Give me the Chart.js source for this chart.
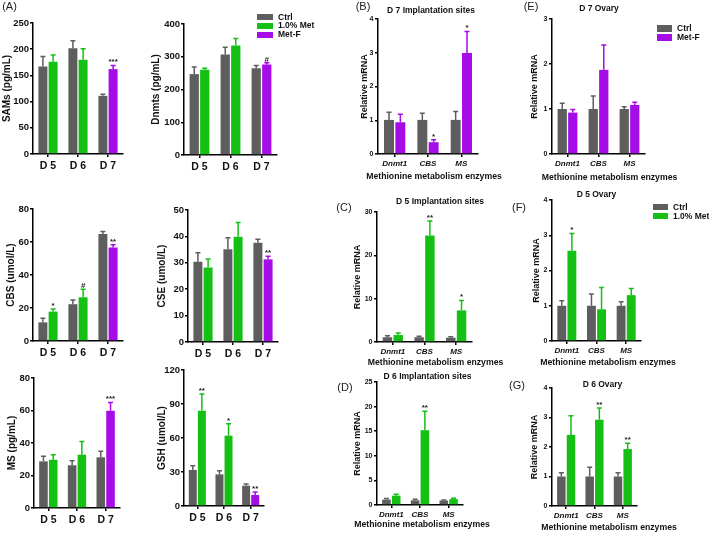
<!DOCTYPE html>
<html><head><meta charset="utf-8">
<script src="https://cdn.jsdelivr.net/npm/chart.js@4.4.1/dist/chart.umd.min.js"></script>
<style>
html,body{margin:0;padding:0;background:#fff;}
body{width:709px;height:534px;position:relative;overflow:hidden;font-family:"Liberation Sans",Arial,sans-serif;}
canvas{position:absolute;}
.plbl{position:absolute;font-size:11px;color:#222;line-height:1;transform:translate(-50%,-50%);white-space:nowrap;}
.leg{position:absolute;font-weight:bold;font-size:8.5px;color:#111;line-height:1;white-space:nowrap;}
.sw{position:absolute;}
</style></head><body>
<script>
const GRAY = '#5e5e5e', GREEN = '#14c014', PURPLE = '#a60ce8';
const dayCats = ['D 5', 'D 6', 'D 7'];
const enzCats = ['Dnmt1', 'CBS', 'MS'];
const dayColors = [GREEN, GREEN, PURPLE];
const greenColors = [GREEN, GREEN, GREEN];
const purpleColors = [PURPLE, PURPLE, PURPLE];

// (A) levels — Ctrl vs treatment (1.0% Met on D5/D6, Met-F on D7)
const samsCtrl = [167, 202, 111], samsCtrlSd = [19, 14, 3];
const samsTrt = [176, 180, 162], samsTrtSd = [13, 21, 7], samsNotes = ['', '', '***'];
const dnmtsCtrl = [247, 307, 265], dnmtsCtrlSd = [22, 22, 8];
const dnmtsTrt = [260, 334, 276], dnmtsTrtSd = [5, 22, 6], dnmtsNotes = ['', '', '#'];
const cbsCtrl = [11.3, 22.3, 64.8], cbsCtrlSd = [2.5, 2.6, 1.6];
const cbsTrt = [17.8, 26.5, 56.7], cbsTrtSd = [1.6, 4.9, 1.6], cbsNotes = ['*', '#', '**'];
const cseCtrl = [30.4, 35.1, 37.6], cseCtrlSd = [3.4, 4.4, 1.3];
const cseTrt = [28.2, 39.9, 31.3], cseTrtSd = [3.2, 5.4, 1.2], cseNotes = ['', '', '**'];
const msCtrl = [28.7, 26.3, 31.2], msCtrlSd = [3.1, 2.8, 3.7];
const msTrt = [29.7, 32.8, 59.9], msTrtSd = [3.1, 8.2, 5.1], msNotes = ['', '', '***'];
const gshCtrl = [31.8, 27.9, 17.9], gshCtrlSd = [3.8, 3.3, 1.5];
const gshTrt = [84.1, 62.1, 9.7], gshTrtSd = [14.7, 10.5, 2.7], gshNotes = ['**', '*', '**'];

// (B)-(G) relative mRNA
const bCtrl = [1.01, 1.01, 1.01], bCtrlSd = [0.23, 0.2, 0.25];
const bTrt = [0.94, 0.35, 2.99], bTrtSd = [0.24, 0.07, 0.64], bNotes = ['', '*', '*'];
const eCtrl = [1, 1, 1], eCtrlSd = [0.13, 0.29, 0.05];
const eTrt = [0.92, 1.87, 1.09], eTrtSd = [0.07, 0.55, 0.06], eNotes = ['', '', ''];
const cCtrl = [1.1, 1.1, 1.0], cCtrlSd = [0.35, 0.25, 0.2];
const cTrt = [1.6, 24.6, 7.3], cTrtSd = [0.5, 3.3, 2.3], cNotes = ['', '**', '*'];
const fCtrl = [1, 1, 1], fCtrlSd = [0.14, 0.33, 0.11];
const fTrt = [2.56, 0.9, 1.30], fTrtSd = [0.49, 0.62, 0.19], fNotes = ['*', '', ''];
const dCtrl = [1.1, 0.95, 0.9], dCtrlSd = [0.2, 0.2, 0.1];
const dTrt = [1.9, 15.2, 1.2], dTrtSd = [0.3, 3.85, 0.15], dNotes = ['', '**', ''];
const gCtrl = [1, 1, 1], gCtrlSd = [0.13, 0.31, 0.13];
const gTrt = [2.41, 2.92, 1.93], gTrtSd = [0.65, 0.4, 0.2], gNotes = ['', '**', '**'];

const XTITLE = 'Methionine metabolism enzymes';
const RM = 'Relative mRNA';

const panels = [
  {plot:[33,23,123,154], ytX:6.5, yTitle:'SAMs (pg/mL)', max:250, step:50, cats:dayCats, ctrl:samsCtrl, ctrlSd:samsCtrlSd, trt:samsTrt, trtSd:samsTrtSd, notes:samsNotes, colors:dayColors},
  {plot:[184,24,277,155], ytX:156, yTitle:'Dnmts (pg/mL)', max:400, step:100, cats:dayCats, ctrl:dnmtsCtrl, ctrlSd:dnmtsCtrlSd, trt:dnmtsTrt, trtSd:dnmtsTrtSd, notes:dnmtsNotes, colors:dayColors},
  {plot:[33,209,123,341], ytX:11, yTitle:'CBS (umol/L)', max:80, step:20, cats:dayCats, ctrl:cbsCtrl, ctrlSd:cbsCtrlSd, trt:cbsTrt, trtSd:cbsTrtSd, notes:cbsNotes, colors:dayColors},
  {plot:[188,210,278,342], ytX:162, yTitle:'CSE (umol/L)', max:50, step:10, cats:dayCats, ctrl:cseCtrl, ctrlSd:cseCtrlSd, trt:cseTrt, trtSd:cseTrtSd, notes:cseNotes, colors:dayColors},
  {plot:[34,378,120,508], ytX:12, yTitle:'MS (pg/mL)', max:80, step:20, cats:dayCats, ctrl:msCtrl, ctrlSd:msCtrlSd, trt:msTrt, trtSd:msTrtSd, notes:msNotes, colors:dayColors},
  {plot:[184,370,264,506], ytX:162, yTitle:'GSH (umol/L)', max:120, step:30, cats:dayCats, ctrl:gshCtrl, ctrlSd:gshCtrlSd, trt:gshTrt, trtSd:gshTrtSd, notes:gshNotes, colors:dayColors},
  {right:true, plot:[378,19,478,154], ytX:364, yTitle:RM, max:4, step:1, cats:enzCats, ctrl:bCtrl, ctrlSd:bCtrlSd, trt:bTrt, trtSd:bTrtSd, notes:bNotes, colors:purpleColors, title:['D 7 Implantation sites',431,10.5], xt:[434,176.5]},
  {right:true, plot:[552,19,645,154], ytX:534.5, yTitle:RM, max:3, step:1, cats:enzCats, ctrl:eCtrl, ctrlSd:eCtrlSd, trt:eTrt, trtSd:eTrtSd, notes:eNotes, colors:purpleColors, title:['D 7 Ovary',599,9], xt:[609.5,178]},
  {right:true, plot:[377,212,472,342], ytX:357, yTitle:RM, max:30, step:10, cats:enzCats, ctrl:cCtrl, ctrlSd:cCtrlSd, trt:cTrt, trtSd:cTrtSd, notes:cNotes, colors:greenColors, title:['D 5 Implantation sites',440,201.5], xt:[435.5,363]},
  {right:true, plot:[552,200,641,341], ytX:536, yTitle:RM, max:4, step:1, cats:enzCats, ctrl:fCtrl, ctrlSd:fCtrlSd, trt:fTrt, trtSd:fTrtSd, notes:fNotes, colors:greenColors, title:['D 5 Ovary',596.5,194.5], xt:[608,363]},
  {right:true, plot:[377,382,463,505], ytX:357, yTitle:RM, max:25, step:5, cats:enzCats, ctrl:dCtrl, ctrlSd:dCtrlSd, trt:dTrt, trtSd:dTrtSd, notes:dNotes, colors:greenColors, title:['D 6 Implantation sites',427.5,377], xt:[422,525]},
  {right:true, plot:[552,388,637,506], ytX:534, yTitle:RM, max:4, step:1, cats:enzCats, ctrl:gCtrl, ctrlSd:gCtrlSd, trt:gTrt, trtSd:gTrtSd, notes:gNotes, colors:greenColors, title:['D 6 Ovary',602.5,385], xt:[609,528]},
];

const FAM = '"Liberation Sans", Arial, sans-serif';

function makeOverlay(texts, cap) {
  return {
    id: 'overlay',
    afterDatasetsDraw(chart) {
      const ctx = chart.ctx, ys = chart.scales.y;
      ctx.save();
      chart.data.datasets.forEach((ds, di) => {
        const meta = chart.getDatasetMeta(di);
        meta.data.forEach((bar, i) => {
          const v = ds.data[i], sd = ds.sd[i];
          const col = Array.isArray(ds.backgroundColor) ? ds.backgroundColor[i] : ds.backgroundColor;
          const yt = ys.getPixelForValue(v + sd);
          ctx.strokeStyle = col; ctx.lineWidth = 1.5;
          ctx.beginPath();
          ctx.moveTo(bar.x, bar.y); ctx.lineTo(bar.x, yt);
          ctx.moveTo(bar.x - cap, yt); ctx.lineTo(bar.x + cap, yt);
          ctx.stroke();
          const n = ds.notes && ds.notes[i];
          if (n) {
            ctx.fillStyle = '#222';
            ctx.font = 'bold 8px ' + FAM;
            ctx.textAlign = 'center'; ctx.textBaseline = 'alphabetic';
            ctx.fillText(n, bar.x, yt - 1);
          }
        });
      });
      ctx.restore();
    },
    afterDraw(chart) {
      const ctx = chart.ctx;
      ctx.save();
      ctx.fillStyle = '#111'; ctx.textAlign = 'center'; ctx.textBaseline = 'middle';
      texts.forEach(t => { ctx.font = t.font; ctx.fillText(t.text, t.x, t.y); });
      ctx.restore();
    }
  };
}

function build(p) {
  const right = !!p.right;
  const ytFont = right ? 9 : 10;
  const lh = ytFont * 1.2;
  const cl = Math.round(p.ytX - lh / 2);
  const [pl, pt, pr, pb] = p.plot;
  const T = 16, R = right ? 45 : 6, B = right ? 30 : 22;
  const L = pl - cl, ct = pt - T;
  const w = Math.round(pr - cl + R), h = Math.round(pb - ct + B);
  const cv = document.createElement('canvas');
  cv.width = w; cv.height = h;
  cv.style.left = cl + 'px'; cv.style.top = ct + 'px';
  cv.style.width = w + 'px'; cv.style.height = h + 'px';
  document.body.appendChild(cv);
  const texts = [];
  if (p.title) texts.push({text: p.title[0], x: p.title[1] - cl, y: p.title[2] - ct, font: 'bold 8.5px ' + FAM});
  if (p.xt) texts.push({text: XTITLE, x: p.xt[0] - cl, y: p.xt[1] - ct, font: 'bold 8.7px ' + FAM});
  new Chart(cv, {
    type: 'bar',
    data: {
      labels: p.cats,
      datasets: [
        {label: 'Ctrl', data: p.ctrl, sd: p.ctrlSd, backgroundColor: GRAY, categoryPercentage: 0.68, barPercentage: 0.88},
        {label: 'Treatment', data: p.trt, sd: p.trtSd, notes: p.notes, backgroundColor: p.colors, categoryPercentage: 0.68, barPercentage: 0.88}
      ]
    },
    options: {
      responsive: false, animation: false, devicePixelRatio: 1,
      layout: {padding: {left: 0, top: T, right: R, bottom: 0}},
      plugins: {legend: {display: false}, title: {display: false}, tooltip: {enabled: false}},
      scales: {
        x: {
          offset: true,
          afterFit: s => { s.height = B; },
          border: {display: true, color: '#000', width: 1.5},
          grid: {display: true, offset: false, drawOnChartArea: false, drawTicks: true, tickLength: 3, color: '#000', lineWidth: 1.5},
          ticks: {color: '#111', padding: right ? 2 : 3, maxRotation: 0, autoSkip: false,
                  font: right ? {family: FAM, size: 8, weight: 'bold', style: 'italic'} : {family: FAM, size: 10.5, weight: 'bold'}}
        },
        y: {
          min: 0, max: p.max,
          afterFit: s => { s.width = L; },
          border: {display: true, color: '#000', width: 1.5},
          grid: {display: true, drawOnChartArea: false, drawTicks: true, tickLength: 3, color: '#000', lineWidth: 1.5},
          ticks: {stepSize: p.step, color: '#111', padding: right ? 1.5 : 1,
                  font: {family: FAM, size: right ? 7 : 9.5, weight: 'bold'}},
          title: {display: true, text: p.yTitle, color: '#111', padding: 0,
                  font: {family: FAM, size: ytFont, weight: 'bold'}}
        }
      }
    },
    plugins: [makeOverlay(texts, 2.5)]
  });
}
panels.forEach(build);

// panel letters
const letters = [['(A)',9.5,6],['(B)',363,6],['(E)',531,6],['(C)',344,207],['(F)',519,207],['(D)',345,387],['(G)',517,385]];
letters.forEach(([t,x,y]) => {
  const d = document.createElement('div'); d.className = 'plbl'; d.textContent = t;
  d.style.left = x + 'px'; d.style.top = y + 'px'; document.body.appendChild(d);
});

// legends
const legA = [['Ctrl', GRAY], ['1.0% Met', GREEN], ['Met-F', PURPLE]];
const legE = [['Ctrl', GRAY], ['Met-F', PURPLE]];
const legF = [['Ctrl', GRAY], ['1.0% Met', GREEN]];
function legend(items, sx, tx, y0, dy, sw, sh) {
  items.forEach(([t, c], i) => {
    const y = y0 + i * dy;
    const s = document.createElement('div'); s.className = 'sw';
    s.style.left = sx + 'px'; s.style.top = (y - sh / 2) + 'px';
    s.style.width = sw + 'px'; s.style.height = sh + 'px'; s.style.background = c;
    document.body.appendChild(s);
    const l = document.createElement('div'); l.className = 'leg'; l.textContent = t;
    l.style.left = tx + 'px'; l.style.top = (y - 4.5) + 'px';
    document.body.appendChild(l);
  });
}
legend(legA, 257, 278, 17.3, 8.6, 16, 6);
legend(legE, 657, 677, 28.7, 9, 15, 7);
legend(legF, 653, 673, 207, 9.3, 15, 6);
</script>
</body></html>
